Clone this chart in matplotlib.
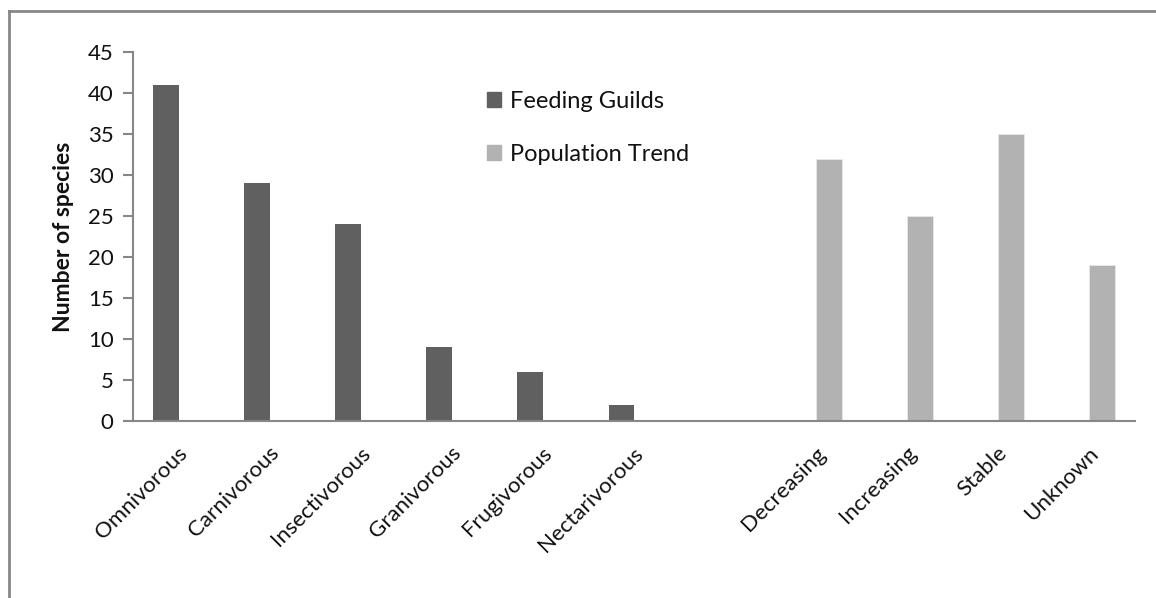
import numpy as np
import matplotlib
matplotlib.use('Agg')
import matplotlib.pyplot as plt
from matplotlib.lines import Line2D
from matplotlib.patches import Patch
from matplotlib import transforms

plt.rcParams['font.family'] = ['Lato', 'DejaVu Sans']

# bird species counts by feeding guild and by population trend
feeding_labels = ['Omnivorous', 'Carnivorous', 'Insectivorous', 'Granivorous',
                  'Frugivorous', 'Nectarivorous']
feeding_counts = [41, 29, 24, 9, 6, 2]
trend_labels = ['Decreasing', 'Increasing', 'Stable', 'Unknown']
trend_counts = [32, 25, 35, 19]

dark = '#606060'
light = '#b2b2b2'
axis_col = '#878787'
txt = '#111111'

# one empty slot between the two groups
labels = feeding_labels + [''] + trend_labels
n = len(labels)
x = np.arange(n)
xf = x[:len(feeding_labels)]
xt = x[len(feeding_labels) + 1:]
w = 0.28

fig = plt.figure(figsize=(11.56, 5.98), dpi=100)
ax = fig.add_axes([0.1151, 0.2960, 0.8667, 0.6170])

ax.bar(xf - w / 2, feeding_counts, w, color=dark, label='Feeding Guilds')
ax.bar(xt + w / 2, trend_counts, w, color=light, edgecolor='#e8e8e8',
       linewidth=0.6, label='Population Trend')

ax.set_xlim(-0.5, n - 0.5)
ax.set_ylim(0, 45)
ax.set_yticks(range(0, 46, 5))
ax.set_xticks(x)
ax.set_xticklabels(labels, rotation=45, ha='right', va='top',
                   rotation_mode='anchor', fontsize=16, color=txt)
ax.tick_params(axis='x', length=0, pad=0)
ax.tick_params(axis='y', direction='out', length=7, width=1.5,
               color=axis_col, labelsize=16, labelcolor=txt, pad=7)

shift = transforms.ScaledTranslation(-1 / 100, -22 / 100, fig.dpi_scale_trans)
for lab in ax.get_xticklabels():
    lab.set_transform(lab.get_transform() + shift)

for s in ['top', 'right']:
    ax.spines[s].set_visible(False)
for s in ['left', 'bottom']:
    ax.spines[s].set_color(axis_col)
    ax.spines[s].set_linewidth(1.5)

ax.set_ylabel('Number of species', fontsize=16.5, fontweight='bold',
              color=txt, labelpad=10)

handles = [Patch(color=dark), Patch(color=light)]
fig.legend(handles, ['Feeding Guilds', 'Population Trend'],
           loc='upper left', bbox_to_anchor=(0.4025, 0.8835), frameon=False,
           handlelength=0.6, handleheight=0.6, handletextpad=0.4,
           labelspacing=1.35, fontsize=17, labelcolor=txt)

# outer frame (left and top edges)
fig.add_artist(Line2D([0.0075, 0.0075], [0, 0.982], color=axis_col,
                      linewidth=2, transform=fig.transFigure))
fig.add_artist(Line2D([0.0075, 1.0], [0.982, 0.982], color=axis_col,
                      linewidth=2, transform=fig.transFigure))

fig.savefig('out.png', dpi=100)
